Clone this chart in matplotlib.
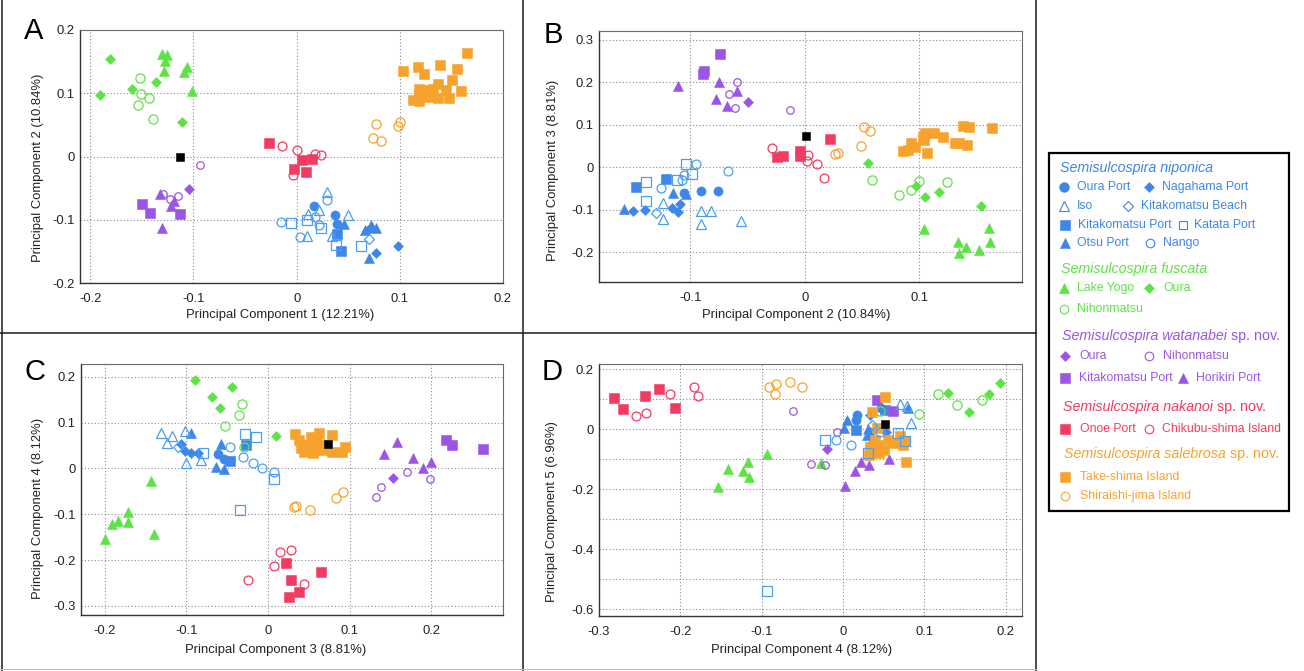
import matplotlib
matplotlib.use("Agg")
import matplotlib.pyplot as plt

plt.rcParams['font.family'] = ['Liberation Sans', 'DejaVu Sans']
plt.rcParams['axes.unicode_minus'] = False

# --- data: (x, y) per panel ---
# A: PC1 vs PC2, B: PC2 vs PC3, C: PC3 vs PC4, D: PC4 vs PC5

nip_oura = {
    "A": ([0.017, 0.037, 0.039], [-0.078, -0.093, -0.106]),
    "B": ([-0.106, -0.091, -0.076], [-0.061, -0.055, -0.055]),
    "C": ([-0.061, -0.054], [0.031, 0.020]),
    "D": ([0.017, 0.016, 0.033, 0.047], [0.048, 0.029, -0.011, 0.070]),
}
nip_nagahama = {
    "A": ([0.069, 0.077, 0.098], [-0.116, -0.152, -0.141]),
    "B": ([-0.150, -0.140, -0.116, -0.109, -0.111], [-0.104, -0.100, -0.096, -0.087, -0.106]),
    "C": ([-0.106, -0.102, -0.094, -0.086], [0.053, 0.038, 0.034, 0.033]),
    "D": ([0.033, 0.053, 0.034], [0.048, -0.008, -0.048]),
}
nip_iso = {
    "A": ([0.029, 0.022, 0.011, 0.050, 0.034, 0.010], [-0.056, -0.084, -0.091, -0.092, -0.126, -0.126]),
    "B": ([-0.124, -0.124, -0.091, -0.082, -0.091, -0.056], [-0.084, -0.121, -0.102, -0.102, -0.133, -0.127]),
    "C": ([-0.131, -0.118, -0.124, -0.101, -0.100, -0.082], [0.078, 0.070, 0.056, 0.082, 0.012, 0.018]),
    "D": ([0.070, 0.083, 0.079], [0.084, 0.022, 0.076]),
}
nip_kbeach = {
    "A": ([0.070], [-0.131]),
    "B": ([-0.130], [-0.108]),
    "C": ([-0.110], [0.046]),
    "D": ([0.035], [0.014]),
}
nip_kport = {
    "A": ([0.039, 0.043], [-0.122, -0.150]),
    "B": ([-0.121, -0.148], [-0.027, -0.047]),
    "C": ([-0.027, -0.046], [0.051, 0.017]),
    "D": ([0.016, 0.051], [-0.002, 0.064]),
}
nip_katata = {
    "A": ([-0.005, 0.010, 0.024, 0.038, 0.062], [-0.105, -0.100, -0.113, -0.140, -0.141]),
    "B": ([-0.104, -0.099, -0.112, -0.139, -0.139], [0.008, -0.016, -0.030, -0.034, -0.080]),
    "C": ([-0.080, -0.028, -0.015, 0.008, -0.034], [0.033, 0.076, 0.069, -0.022, -0.091]),
    "D": ([-0.022, 0.068, 0.076, 0.031, -0.093], [-0.036, -0.013, -0.041, -0.078, -0.541]),
}
nip_otsu = {
    "A": ([0.046, 0.066, 0.072, 0.077, 0.070], [-0.106, -0.116, -0.109, -0.113, -0.160]),
    "B": ([-0.115, -0.158, -0.104], [-0.061, -0.098, -0.063]),
    "C": ([-0.094, -0.058, -0.064, -0.054], [0.078, 0.053, 0.004, -0.002]),
    "D": ([0.005, 0.001, 0.031, 0.080, 0.029], [0.031, 0.003, 0.0, 0.070, -0.019]),
}
nip_nango = {
    "A": ([0.029, -0.015, 0.018, 0.022, 0.003], [-0.069, -0.104, -0.095, -0.108, -0.128]),
    "B": ([-0.095, -0.067, -0.106, -0.107, -0.126], [0.008, -0.008, -0.018, -0.031, -0.048]),
    "C": ([-0.047, -0.030, -0.018, -0.007, 0.007], [0.046, 0.025, 0.011, 0.0, -0.007]),
    "D": ([-0.009, 0.010, 0.045], [-0.036, -0.052, -0.008]),
}
fus_yogo = {
    "A": ([-0.131, -0.126, -0.128, -0.129, -0.106, -0.109, -0.101], [0.162, 0.160, 0.151, 0.135, 0.141, 0.134, 0.103]),
    "B": ([0.104, 0.161, 0.134, 0.141, 0.152, 0.162, 0.135], [-0.145, -0.143, -0.177, -0.188, -0.194, -0.177, -0.202]),
    "C": ([-0.143, -0.172, -0.172, -0.184, -0.191, -0.200, -0.140], [-0.027, -0.096, -0.118, -0.115, -0.122, -0.154, -0.143]),
    "D": ([-0.154, -0.142, -0.123, -0.117, -0.115, -0.094, -0.027], [-0.194, -0.132, -0.139, -0.108, -0.161, -0.083, -0.114]),
}
fus_oura = {
    "A": ([-0.181, -0.191, -0.160, -0.136, -0.111], [0.154, 0.097, 0.106, 0.117, 0.054]),
    "B": ([0.055, 0.097, 0.105, 0.117, 0.154], [0.009, -0.044, -0.070, -0.059, -0.091]),
    "C": ([-0.089, -0.044, -0.069, -0.059, 0.010], [0.194, 0.178, 0.156, 0.131, 0.071]),
    "D": ([0.129, 0.155, 0.179, 0.193], [0.119, 0.058, 0.117, 0.153]),
}
fus_nihon = {
    "A": ([-0.152, -0.151, -0.143, -0.154, -0.139], [0.124, 0.099, 0.093, 0.081, 0.059]),
    "B": ([0.059, 0.082, 0.093, 0.100, 0.124], [-0.030, -0.066, -0.053, -0.032, -0.036]),
    "C": ([-0.032, -0.035, -0.052, -0.029], [0.140, 0.116, 0.093, 0.047]),
    "D": ([0.117, 0.140, 0.171, 0.093, 0.045], [0.118, 0.079, 0.097, 0.050, 0.059]),
}
wat_oura = {
    "A": ([-0.104], [-0.051]),
    "B": ([-0.050], [0.153]),
    "C": ([0.153], [-0.020]),
    "D": ([-0.020], [-0.066]),
}
wat_nihon = {
    "A": ([-0.094, -0.130, -0.123, -0.115], [-0.013, -0.060, -0.067, -0.063]),
    "B": ([-0.059, -0.066, -0.061, -0.013], [0.201, 0.172, 0.138, 0.134]),
    "C": ([0.171, 0.199, 0.138, 0.133], [-0.007, -0.023, -0.040, -0.062]),
    "D": ([-0.062, -0.008, -0.040, -0.022], [0.059, -0.010, -0.117, -0.121]),
}
wat_kport = {
    "A": ([-0.150, -0.142, -0.113], [-0.075, -0.090, -0.091]),
    "B": ([-0.074, -0.088, -0.089], [0.266, 0.227, 0.220]),
    "C": ([0.218, 0.226, 0.263], [0.061, 0.052, 0.043]),
    "D": ([0.042, 0.061], [0.098, 0.059]),
}
wat_horikiri = {
    "A": ([-0.132, -0.122, -0.119, -0.131], [-0.060, -0.078, -0.070, -0.113]),
    "B": ([-0.111, -0.075, -0.059, -0.078, -0.068], [0.191, 0.201, 0.179, 0.159, 0.144]),
    "C": ([0.158, 0.142, 0.178, 0.190, 0.200], [0.057, 0.032, 0.022, 0.001, 0.015]),
    "D": ([0.022, 0.032, 0.056, 0.015, 0.003], [-0.110, -0.119, -0.100, -0.139, -0.188]),
}
nak_onoe = {
    "A": ([-0.027, 0.005, 0.015, -0.003, 0.009], [0.021, -0.005, -0.004, -0.020, -0.025]),
    "B": ([0.022, -0.024, -0.019, -0.004, -0.004], [0.066, 0.023, 0.027, 0.037, 0.027]),
    "C": ([0.022, 0.028, 0.038, 0.026, 0.065], [-0.207, -0.243, -0.270, -0.280, -0.226]),
    "D": ([-0.281, -0.271, -0.243, -0.226, -0.207], [0.103, 0.066, 0.111, 0.133, 0.070]),
}
nak_chikubu = {
    "A": ([-0.014, 0.0, 0.018, 0.024, -0.004], [0.016, 0.010, 0.004, 0.002, -0.030]),
    "B": ([-0.029, 0.003, 0.002, 0.011, 0.017], [0.044, 0.029, 0.014, 0.008, -0.025]),
    "C": ([0.015, 0.028, 0.007, -0.024, 0.044], [-0.183, -0.177, -0.213, -0.243, -0.253]),
    "D": ([-0.254, -0.242, -0.213, -0.183, -0.178], [0.044, 0.054, 0.117, 0.139, 0.109]),
}
sal_take = {
    "A": ([0.165, 0.103, 0.118, 0.123, 0.139, 0.155, 0.151, 0.137, 0.132, 0.119,
           0.127, 0.145, 0.159, 0.113, 0.119, 0.128, 0.137, 0.148, 0.119],
          [0.164, 0.135, 0.142, 0.131, 0.145, 0.139, 0.121, 0.114, 0.107, 0.107,
           0.105, 0.105, 0.103, 0.090, 0.087, 0.094, 0.093, 0.093, 0.098]),
    "B": ([0.138, 0.144, 0.164, 0.105, 0.113, 0.121, 0.104, 0.131, 0.135, 0.142,
           0.093, 0.096, 0.086, 0.090, 0.107, 0.103],
          [0.097, 0.095, 0.092, 0.080, 0.080, 0.070, 0.064, 0.056, 0.056, 0.051,
           0.056, 0.048, 0.039, 0.041, 0.033, 0.070]),
    "C": ([0.033, 0.038, 0.053, 0.063, 0.079, 0.040, 0.048, 0.056, 0.064, 0.069,
           0.079, 0.091, 0.095, 0.044, 0.055, 0.059],
          [0.075, 0.062, 0.068, 0.078, 0.073, 0.044, 0.051, 0.040, 0.054, 0.040,
           0.036, 0.036, 0.047, 0.036, 0.033, 0.062]),
    "D": ([0.051, 0.035, 0.042, 0.039, 0.043, 0.055, 0.062, 0.070, 0.074, 0.037,
           0.032, 0.044, 0.033, 0.078, 0.076, 0.050],
          [0.107, 0.056, 0.003, -0.036, -0.052, -0.036, -0.047, -0.024, -0.052, -0.074,
           -0.086, -0.080, -0.058, -0.108, -0.041, -0.069]),
}
sal_shira = {
    "A": ([0.077, 0.074, 0.082, 0.098, 0.100], [0.052, 0.030, 0.025, 0.049, 0.055]),
    "B": ([0.052, 0.057, 0.049, 0.026, 0.029], [0.094, 0.084, 0.050, 0.031, 0.034]),
    "C": ([0.092, 0.084, 0.032, 0.035, 0.051], [-0.051, -0.065, -0.084, -0.081, -0.091]),
    "D": ([-0.091, -0.082, -0.084, -0.065, -0.051], [0.139, 0.150, 0.117, 0.157, 0.142]),
}
unknown = {
    "A": ([-0.113], [0.0]),
    "B": ([0.001], [0.073]),
    "C": ([0.074], [0.053]),
    "D": ([0.051], [0.017]),
}

BLUE = '#3d86ea'
BLUE_O = '#4b9ff2'
GREEN = '#5ee347'
PURPLE = '#9a55e6'
RED = '#f23b60'
ORANGE = '#f8a22e'

# (data, colour, marker, filled, size)
groups = [
    (nip_oura, BLUE, 'o', True, 6.6),
    (nip_nagahama, BLUE, 'D', True, 5.0),
    (nip_kport, BLUE, 's', True, 6.5),
    (nip_otsu, BLUE, '^', True, 7.0),
    (fus_yogo, GREEN, '^', True, 7.0),
    (fus_oura, GREEN, 'D', True, 5.0),
    (fus_nihon, GREEN, 'o', False, 6.6),
    (wat_oura, PURPLE, 'D', True, 5.0),
    (wat_nihon, PURPLE, 'o', False, 5.4),
    (wat_kport, PURPLE, 's', True, 6.5),
    (wat_horikiri, PURPLE, '^', True, 6.6),
    (nak_onoe, RED, 's', True, 6.5),
    (nak_chikubu, RED, 'o', False, 6.4),
    (sal_take, ORANGE, 's', True, 6.8),
    (sal_shira, ORANGE, 'o', False, 6.6),
    (nip_iso, BLUE_O, '^', False, 7.0),
    (nip_kbeach, BLUE_O, 'D', False, 5.0),
    (nip_katata, BLUE_O, 's', False, 6.5),
    (nip_nango, BLUE_O, 'o', False, 6.4),
    (unknown, 'black', 's', True, 5.8),
]

W, H = 1304, 671
fig = plt.figure(figsize=(W / 100, H / 100), dpi=100)
fig.patch.set_facecolor('white')

# overlay axes in pixel coordinates for frames, labels and the legend
ov = fig.add_axes([0, 0, 1, 1])
ov.set_xlim(0, W)
ov.set_ylim(H, 0)
ov.axis('off')


def fmt(v, pos=None):
    return f"{round(v, 3) + 0:g}"


panels = {
    "A": dict(box=(80, 30, 503, 283), xlim=(-0.21, 0.2), ylim=(-0.2, 0.2),
              xt=[-0.2, -0.1, 0, 0.1, 0.2], yt=[-0.2, -0.1, 0, 0.1, 0.2], ymin=None,
              xlabel="Principal Component 1 (12.21%)", xl=(280, 315),
              ylabel="Principal Component 2 (10.84%)", yl=(38, 168), letter=(34, 31)),
    "B": dict(box=(599, 31, 1022, 282), xlim=(-0.18, 0.19), ylim=(-0.27, 0.32),
              xt=[-0.1, 0, 0.1], yt=[-0.2, -0.1, 0, 0.1, 0.2, 0.3], ymin=None,
              xlabel="Principal Component 2 (10.84%)", xl=(796, 315),
              ylabel="Principal Component 3 (8.81%)", yl=(553, 170), letter=(553, 35)),
    "C": dict(box=(81, 364, 503, 615), xlim=(-0.229, 0.288), ylim=(-0.32, 0.228),
              xt=[-0.2, -0.1, 0, 0.1, 0.2], yt=[-0.3, -0.2, -0.1, 0, 0.1, 0.2], ymin=None,
              xlabel="Principal Component 3 (8.81%)", xl=(276, 650),
              ylabel="Principal Component 4 (8.12%)", yl=(38, 508), letter=(35, 372)),
    "D": dict(box=(599, 364, 1022, 616), xlim=(-0.3, 0.22), ylim=(-0.623, 0.217),
              xt=[-0.3, -0.2, -0.1, 0, 0.1, 0.2], yt=[-0.6, -0.4, -0.2, 0, 0.2],
              ymin=[-0.5, -0.3, -0.1, 0.1],
              xlabel="Principal Component 4 (8.12%)", xl=(802, 650),
              ylabel="Principal Component 5 (6.96%)", yl=(552, 512), letter=(552, 372)),
}

for key, p in panels.items():
    l, t, r, b = p["box"]
    ax = fig.add_axes([l / W, 1 - b / H, (r - l) / W, (b - t) / H])
    ax.set_xlim(*p["xlim"])
    ax.set_ylim(*p["ylim"])
    ax.set_xticks(p["xt"])
    ax.set_yticks(p["yt"])
    if p["ymin"]:
        ax.set_yticks(p["ymin"], minor=True)
    ax.xaxis.set_major_formatter(plt.FuncFormatter(fmt))
    ax.yaxis.set_major_formatter(plt.FuncFormatter(fmt))
    ax.tick_params(axis='both', which='both', length=0, labelsize=9.4, colors='#222222')
    ax.tick_params(axis='x', pad=7)
    ax.tick_params(axis='y', pad=4)
    ax.grid(True, which='both', linestyle=(0, (1, 2)), color='#8c8c8c', linewidth=0.8)
    ax.set_axisbelow(True)
    for s in ('left', 'bottom'):
        ax.spines[s].set_color('#333333')
        ax.spines[s].set_linewidth(1.0)
    for s in ('top', 'right'):
        ax.spines[s].set_color('#6b6b6b')
        ax.spines[s].set_linewidth(0.8)

    for data, col, mk, filled, ms in groups:
        xs, ys = data[key]
        if filled:
            ax.plot(xs, ys, linestyle='none', marker=mk, markersize=ms,
                    markerfacecolor=col, markeredgecolor=col, markeredgewidth=0.4,
                    clip_on=False)
        else:
            ax.plot(xs, ys, linestyle='none', marker=mk, markersize=ms,
                    markerfacecolor='none', markeredgecolor=col, markeredgewidth=0.9,
                    clip_on=False)

    ov.text(p["xl"][0], p["xl"][1], p["xlabel"], ha='center', va='center',
            fontsize=9.4, color='#222222')
    ov.text(p["yl"][0], p["yl"][1], p["ylabel"], ha='center', va='center',
            rotation=90, fontsize=9.4, color='#222222')
    ov.text(p["letter"][0], p["letter"][1], key, ha='center', va='center',
            fontsize=21, color='black')

# panel frames
frame = dict(color='#1a1a1a', linewidth=1.1)
ov.plot([2, 2], [0, H], **frame)
ov.plot([0, 1036], [333, 333], **frame)
ov.plot([523, 523], [0, H], **frame)
ov.plot([1036, 1036], [0, H], **frame)
ov.plot([0, 1036], [669, 669], color='#bbbbbb', linewidth=0.8)

# legend
ov.add_patch(plt.Rectangle((1049, 153), 240, 358, fill=False,
                           edgecolor='black', linewidth=1.6))

renderer = fig.canvas.get_renderer()


def species_title(x, y, name, col, suffix):
    t = ov.text(x, y, name, style='italic', color=col, fontsize=10.3,
                ha='left', va='center')
    if suffix:
        bb = t.get_window_extent(renderer=renderer)
        ov.text(bb.x1, y, " " + suffix, color=col, fontsize=10.3,
                ha='left', va='center')


def item(mx, tx, y, mk, col, filled, ms, label):
    if filled:
        ov.plot([mx], [y], marker=mk, markersize=ms, markerfacecolor=col,
                markeredgecolor=col, markeredgewidth=0.4, linestyle='none')
    else:
        ov.plot([mx], [y], marker=mk, markersize=ms, markerfacecolor='none',
                markeredgecolor=col, markeredgewidth=0.8, linestyle='none')
    ov.text(tx, y, label, color=col, fontsize=8.8, ha='left', va='center')


species_title(1060, 168, "Semisulcospira niponica", BLUE, None)
item(1064, 1077, 187, 'o', BLUE, True, 7.0, "Oura Port")
item(1149, 1162, 187, 'D', BLUE, True, 5.2, "Nagahama Port")
item(1064, 1077, 206, '^', BLUE, False, 7.4, "Iso")
item(1128, 1141, 206, 'D', BLUE, False, 5.4, "Kitakomatsu Beach")
item(1065, 1078, 225, 's', BLUE, True, 6.8, "Kitakomatsu Port")
item(1183, 1194, 225, 's', BLUE, False, 6.2, "Katata Port")
item(1065, 1077, 243, '^', BLUE, True, 7.4, "Otsu Port")
item(1150, 1163, 243, 'o', BLUE, False, 6.2, "Nango")

species_title(1061, 269, "Semisulcospira fuscata", GREEN, None)
item(1064, 1077, 288, '^', GREEN, True, 7.4, "Lake Yogo")
item(1149, 1163, 288, 'D', GREEN, True, 5.2, "Oura")
item(1064, 1077, 309, 'o', GREEN, False, 6.2, "Nihonmatsu")

species_title(1062, 336, "Semisulcospira watanabei", PURPLE, "sp. nov.")
item(1065, 1079, 356, 'D', PURPLE, True, 5.2, "Oura")
item(1149, 1163, 356, 'o', PURPLE, False, 6.2, "Nihonmatsu")
item(1065, 1079, 378, 's', PURPLE, True, 6.8, "Kitakomatsu Port")
item(1183, 1196, 378, '^', PURPLE, True, 7.4, "Horikiri Port")

species_title(1063, 407, "Semisulcospira nakanoi", RED, "sp. nov.")
item(1065, 1080, 429, 's', RED, True, 6.8, "Onoe Port")
item(1149, 1162, 429, 'o', RED, False, 6.2, "Chikubu-shima Island")

species_title(1064, 454, "Semisulcospira salebrosa", ORANGE, "sp. nov.")
item(1065, 1080, 477, 's', ORANGE, True, 6.8, "Take-shima Island")
item(1065, 1080, 496, 'o', ORANGE, False, 6.2, "Shiraishi-jima Island")

fig.savefig("out.png", dpi=100, facecolor='white')
